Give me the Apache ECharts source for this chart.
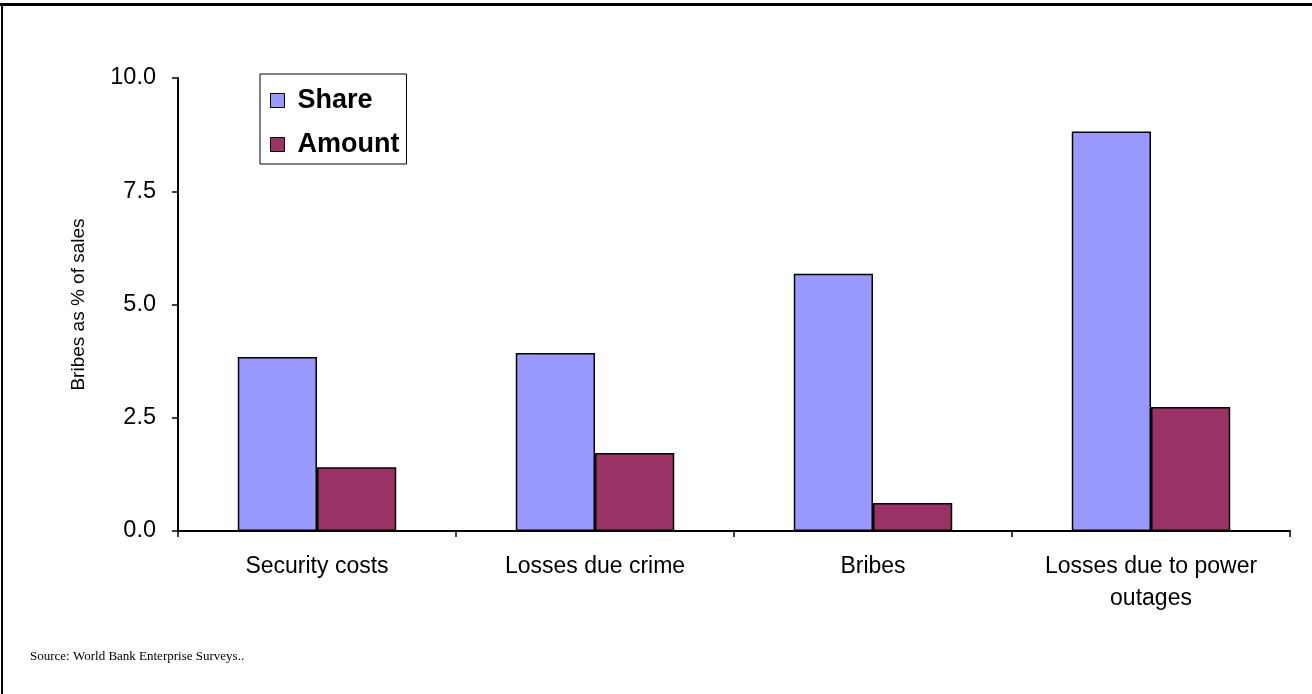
<!DOCTYPE html>
<html>
<head>
<meta charset="utf-8">
<script src="https://cdn.jsdelivr.net/npm/echarts@6/dist/echarts.min.js"></script>
<style>
html,body{margin:0;padding:0;background:#fff;}
#chart{width:1312px;height:694px;}
</style>
</head>
<body>
<div id="chart"></div>
<script>
var categories = ['Security costs', 'Losses due crime', 'Bribes', 'Losses due to power\noutages'];
var shareValues = [3.84, 3.93, 5.68, 8.82];
var amountValues = [1.41, 1.72, 0.62, 2.74];
var seriesNames = ['Share', 'Amount'];
var yTicks = { min: 0, max: 10, interval: 2.5 };
var yTitle = 'Bribes as % of sales';
var sourceText = 'Source: World Bank Enterprise Surveys..';

var FONT = 'Arial, "Liberation Sans", sans-serif';
var chart = echarts.init(document.getElementById('chart'), null, {renderer: 'canvas'});
chart.setOption({
  animation: false,
  backgroundColor: '#ffffff',
  grid: { left: 178, right: 22, top: 78, bottom: 163, containLabel: false },
  legend: {
    orient: 'vertical',
    left: 260, top: 74,
    padding: [13, 7, 6, 10],
    itemGap: 17,
    itemWidth: 14, itemHeight: 14,
    borderColor: '#000', borderWidth: 1,
    icon: 'rect',
    itemStyle: { borderColor: '#000', borderWidth: 1 },
    textStyle: { fontFamily: FONT, fontSize: 27, fontWeight: 'bold', color: '#000', padding: [0, 0, 0, 8] },
    data: seriesNames
  },
  xAxis: {
    type: 'category',
    data: categories,
    axisLine: { lineStyle: { color: '#000', width: 2 } },
    axisTick: { show: true, length: 6, lineStyle: { color: '#000', width: 1.5 } },
    axisLabel: { color: '#000', fontFamily: FONT, fontSize: 23, margin: 20, lineHeight: 32, interval: 0 }
  },
  yAxis: {
    type: 'value',
    min: yTicks.min, max: yTicks.max, interval: yTicks.interval,
    name: yTitle,
    nameLocation: 'middle',
    nameRotate: 90,
    nameGap: 90,
    nameTextStyle: { color: '#000', fontFamily: FONT, fontSize: 19 },
    axisLine: { show: true, lineStyle: { color: '#000', width: 2 } },
    axisTick: { show: true, length: 6, lineStyle: { color: '#000', width: 1.5 } },
    splitLine: { show: false },
    axisLabel: { color: '#000', fontFamily: FONT, fontSize: 23.5, margin: 22,
      formatter: function (v) { return v.toFixed(1); } }
  },
  series: [
    { name: seriesNames[0], type: 'bar', data: shareValues, barGap: '0%', barCategoryGap: '43%',
      itemStyle: { color: '#9999FF', borderColor: '#000', borderWidth: 1.5 } },
    { name: seriesNames[1], type: 'bar', data: amountValues, barGap: '0%', barCategoryGap: '43%',
      itemStyle: { color: '#993366', borderColor: '#000', borderWidth: 1.5 } }
  ],
  graphic: [
    { type: 'line', shape: { x1: 0, y1: 4.5, x2: 1312, y2: 4.5 }, style: { stroke: '#000', lineWidth: 3 } },
    { type: 'line', shape: { x1: 2, y1: 3, x2: 2, y2: 694 }, style: { stroke: '#000', lineWidth: 2 } },
    { type: 'text', left: 30, top: 650, style: { text: sourceText, font: '13px "Liberation Serif", "Times New Roman", serif', fill: '#000' } }
  ]
});
</script>
</body>
</html>
